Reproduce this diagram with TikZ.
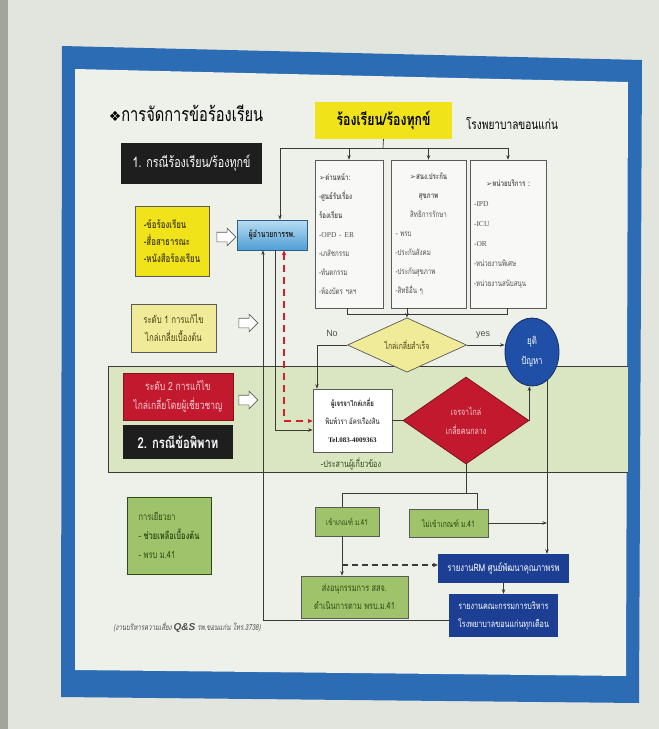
\documentclass[tikz,border=0pt]{standalone}
\usepackage{fontspec}
\setmainfont{Liberation Serif}
\newfontfamily\thf[Script=Thai,FakeStretch=0.75]{Loma}
\newfontfamily\thfi[Script=Thai,FakeStretch=0.75,FakeSlant=0.2]{Loma}
\newfontfamily\djv{DejaVu Sans}
\newfontfamily\lsans{Liberation Sans}
\usetikzlibrary{shapes.geometric,shapes.arrows,arrows.meta}
\newcommand\setfs[2]{\fontsize{#1}{#2}\selectfont}
\definecolor{wall}{HTML}{E2E4DE}
\definecolor{strip}{HTML}{A3A59A}
\definecolor{paper}{HTML}{EEF0EA}
\definecolor{frameblue}{HTML}{2B6CB5}
\definecolor{ybright}{HTML}{F0E31A}
\definecolor{ylight}{HTML}{EFEB98}
\definecolor{blk}{HTML}{1E1E1E}
\definecolor{bandg}{HTML}{DAE5C2}
\definecolor{boxg}{HTML}{9FC36B}
\definecolor{redb}{HTML}{C3192E}
\definecolor{darkb}{HTML}{1C3F94}
\definecolor{circb}{HTML}{1F4FA6}
\definecolor{lncol}{HTML}{3A3A3A}
\definecolor{bdcol}{HTML}{5A5A5A}
\definecolor{olivetxt}{HTML}{4A4010}
\definecolor{greentxt}{HTML}{2F4A14}
\definecolor{graytxt}{HTML}{505050}
\definecolor{pinktxt}{HTML}{F6D0D4}
\definecolor{dirtop}{HTML}{B9DCF2}
\definecolor{dirbot}{HTML}{4E9FD6}
\definecolor{dashred}{HTML}{D02030}
\begin{document}
\begin{tikzpicture}[x=1pt,y=-1pt,
  line/.style={draw=lncol,line width=0.7pt},
  arr/.style={line,-{Stealth[length=4.5pt,width=3.5pt]}},
  rect/.style={draw=bdcol,line width=0.7pt,inner sep=0pt,align=center},
  hollow/.style={single arrow,draw=gray!70!black,fill=white,line width=0.6pt,
     minimum height=19pt,inner sep=4.5pt,single arrow head extend=4pt},
  ]
\useasboundingbox (0,0) rectangle (659,729);
% background
\fill[wall] (0,0) rectangle (659,729);
\fill[strip] (0,0) rectangle (8,729);
\fill[frameblue] (62,46) -- (642,60) -- (639,703) -- (61,697) -- cycle;
\fill[paper] (75,69) -- (628,82) -- (626,676) -- (75,670) -- cycle;
% green band
\fill[bandg] (108,366) rectangle (628,472);
\draw[line] (108,472) -- (108,366) -- (628,366);
\draw[line] (108,472) -- (628,472);

% title texts
\node[font=\thf\setfs{19.5}{22}] (title) at (186,113) {{\djv\setfs{14}{16}❖}การจัดการข้อร้องเรียน};
\node[fill=ybright,inner sep=0pt,minimum width=137pt,minimum height=37pt,font=\thf\bfseries\setfs{16.4}{18}] (topbox) at (383.5,120.5) {ร้องเรียน/ร้องทุกข์};
\node[font=\thf\setfs{13.5}{15}] (hosp) at (512,123) {โรงพยาบาลขอนแก่น};
\node[fill=blk,inner sep=0pt,minimum width=141pt,minimum height=41pt,text=white,font=\thf\setfs{14.3}{16}] (case1) at (191.5,163.5) {1. กรณีร้องเรียน/ร้องทุกข์};

% left column
\node[rect,fill=ybright,minimum width=74pt,minimum height=70pt,align=left,text=olivetxt,font=\thf\bfseries\setfs{10.5}{17}] (src) at (172,241) {-ข้อร้องเรียน\\-สื่อสาธารณะ\\-หนังสือร้องเรียน};
\node[hollow] (ha1) at (224,237) {};
\node[rect,top color=dirtop,bottom color=dirbot,draw=dirbot!60!black,minimum width=70pt,minimum height=30pt,text=blk,font=\thf\bfseries\setfs{9.1}{10}] (director) at (272,235) {ผู้อำนวยการรพ.};

\node[rect,fill=ylight,minimum width=85pt,minimum height=48pt,text=olivetxt,font=\thf\setfs{10.4}{18}] (lvl1) at (173.5,328) {ระดับ 1 การแก้ไข\\ไกล่เกลี่ยเบื้องต้น};
\node[hollow] (ha2) at (246,323) {};
\node[rect,fill=redb,draw=redb!70!black,minimum width=110pt,minimum height=47pt,text=pinktxt,font=\thf\setfs{11.3}{19}] (lvl2) at (178,396.5) {ระดับ 2 การแก้ไข\\ไกล่เกลี่ยโดยผู้เชี่ยวชาญ};
\node[hollow] (ha3) at (246,400) {};
\node[fill=blk,inner sep=0pt,minimum width=110pt,minimum height=34pt,text=white,font=\thf\bfseries\setfs{15}{17}] (case2) at (178,442) {2. กรณีข้อพิพาท};
\node[rect,fill=boxg,draw=greentxt,minimum width=84pt,minimum height=77pt,align=left,text=greentxt,font=\thf\setfs{10}{19}] (remedy) at (169,535.5) {การเยียวยา\\- \textbf{ช่วยเหลือเบื้องต้น}\\- พรบ ม.41};
\node[font=\thfi\setfs{8.2}{9},text=graytxt] (footer) at (187,627) {(งานบริหารความเสี่ยง {\lsans\bfseries\itshape\setfs{10}{11}Q\&S} รพ.ขอนแก่น โทร.3738)};

% three boxes
\node[rect,fill=white!60!paper,minimum width=68pt,minimum height=148pt,text width=60pt,align=left,text=graytxt,font=\thf\setfs{8.2}{19}] (box1) at (349,234)
 {{\djv\setfs{7.5}{19}➢}\textbf{ด่านหน้า:}\\-\textbf{ศูนย์รับเรื่อง}\\\textbf{ร้องเรียน}\\{\rmfamily\setfs{7.5}{19}-OPD - ER}\\-เภสัชกรรม\\-ทันตกรรม\\-ห้องบัตร ฯลฯ};
\node[rect,fill=white!60!paper,minimum width=75pt,minimum height=148pt,text width=66pt,align=left,text=graytxt,font=\thf\setfs{8.2}{19}] (box2) at (428.5,234)
 {\makebox[66pt]{{\djv\setfs{7.5}{19}➢}\textbf{สนง.ประกัน}}\\\makebox[66pt]{\textbf{สุขภาพ}}\\\makebox[66pt]{สิทธิการรักษา}\\- พรบ\\-ประกันสังคม\\-ประกันสุขภาพ\\-สิทธิอื่น ๆ};
\node[rect,fill=white!60!paper,minimum width=76pt,minimum height=148pt,text width=68pt,align=left,text=graytxt,font=\thf\setfs{8.2}{20}] (box3) at (508,234)
 {\makebox[68pt]{{\djv\setfs{7.5}{20}➢}\textbf{หน่วยบริการ :}}\\{\rmfamily\setfs{7.5}{20}-IPD}\\{\rmfamily\setfs{7.5}{20}-ICU}\\{\rmfamily\setfs{7.5}{20}-OR}\\-หน่วยงานพิเศษ\\-หน่วยงานสนับสนุน};

% decision and end
\node[diamond,draw=bdcol,line width=0.7pt,fill=ylight,minimum width=119pt,minimum height=44pt,inner sep=0pt,text=olivetxt,font=\thf\setfs{9.2}{10}] (ydia) at (407,345) {ไกล่เกลี่ยสำเร็จ};
\node[font=\lsans\setfs{9}{10},text=graytxt] (nolab) at (332,333) {No};
\node[font=\lsans\setfs{9}{10},text=graytxt] (yeslab) at (483,335) {yes};
\node[ellipse,fill=circb,draw=circb!60!black,line width=0.8pt,minimum width=54pt,minimum height=68pt,inner sep=0pt,align=center,text=white,font=\thf\setfs{10.4}{20}] (endc) at (532,352) {ยุติ\\ปัญหา};

\node[rect,fill=white,minimum width=79pt,minimum height=63pt,text=blk,font=\thf\setfs{8}{18}] (mediator) at (352.5,420.5) {\textbf{ผู้เจรจาไกล่เกลี่ย}\\พิมพ์วรา อัครเรืองสิน\\{\rmfamily\bfseries\setfs{7}{18}Tel.083-4009363}};
\node[font=\thf\setfs{9.6}{10},text=greentxt] (coord) at (351,464) {-ประสานผู้เกี่ยวข้อง};
\node[diamond,draw=redb!60!black,line width=0.7pt,fill=redb,minimum width=126pt,minimum height=87pt,inner sep=0pt,align=center,text=pinktxt,font=\thf\setfs{9.4}{19}] (rdia) at (466,420.5) {เจรจาไกล่\\เกลี่ยคนกลาง};

% lower part
\node[rect,fill=boxg,minimum width=64pt,minimum height=29pt,text=greentxt,font=\thf\setfs{8.3}{9}] (inbox) at (347,521.5) {เข้าเกณฑ์ ม.41};
\node[rect,fill=boxg,minimum width=79pt,minimum height=28pt,text=greentxt,font=\thf\setfs{9}{10}] (outbox) at (448.5,523) {ไม่เข้าเกณฑ์ ม.41};
\node[rect,fill=boxg,minimum width=107pt,minimum height=42pt,text=greentxt,font=\thf\setfs{9.8}{18}] (subcom) at (354.5,597) {ส่งอนุกรรมการ สสจ.\\ดำเนินการตาม พรบ.ม.41};
\node[fill=darkb,inner sep=0pt,minimum width=131pt,minimum height=29pt,text=white,font=\thf\setfs{10.2}{11}] (rmbox) at (503.5,568.5) {รายงานRM ศูนย์พัฒนาคุณภาพรพ};
\node[fill=darkb,inner sep=0pt,minimum width=109pt,minimum height=43pt,align=center,text=white,font=\thf\setfs{9.6}{18}] (board) at (503.5,615.5) {รายงานคณะกรรมการบริหาร\\โรงพยาบาลขอนแก่นทุกเดือน};

% connectors: top
\coordinate (tj) at (383,148);
\coordinate (tl) at (280,148);
\coordinate (tr) at (508,148);
\draw[line] (topbox.south) -- (tj);
\draw[line] (tl) -- (tr);
\draw[arr] (tl) -- (tl |- director.north);
\draw[arr] (box1.north |- tl) -- (box1.north);
\draw[arr] (box2.north |- tl) -- (box2.north);
\draw[arr] (box3.north |- tl) -- (box3.north);
% boxes to decision
\coordinate (bl) at (347,314);
\coordinate (br) at (507,314);
\draw[line] (box1.south -| bl) -- (bl) -- (br) -- (box3.south -| br);
\draw[arr] (box2.south -| ydia.north) -- (ydia.north);
\coordinate (nc) at (317,345);
\draw[arr] (ydia.west) -- (nc) -- (nc |- mediator.north);
\draw[arr] (ydia.east) -- (ydia.east -| endc.west);
\draw[line] (mediator.east) -- (rdia.west);
\draw[arr] (rdia.east) -- (rdia.east |- endc.south);
\coordinate (rv) at (547,380);
\draw[arr] (rv) -- (rv |- rmbox.north);
\draw[arr] (outbox.east) -- (outbox.east -| rv);
% lower
\coordinate (mj) at (466,493);
\coordinate (ml) at (342,493);
\coordinate (mr) at (477,493);
\draw[line] (rdia.south) -- (mj);
\draw[line] (ml |- inbox.north) -- (ml) -- (mr) -- (mr |- outbox.north);
\draw[arr] (inbox.south -| ml) -- (subcom.north -| ml);
\coordinate (dj) at (342,565);
\draw[line,line width=1.6pt,dash pattern=on 6pt off 4pt,-{Stealth[length=5pt,width=4.5pt]}] (dj) -- (dj -| rmbox.west);
\draw[arr] (rmbox.south) -- (board.north);
% left return lines
\coordinate (lb) at (263,620);
\draw[arr] (board.west |- lb) -- (lb) -- (lb |- director.south);
\coordinate (l2) at (275,430);
\draw[arr] (director.south -| l2) -- (l2) -- (l2 -| mediator.west);
\coordinate (l3) at (284,421);
\draw[draw=dashred,line width=1.6pt,dash pattern=on 7pt off 5pt,{Stealth[length=5pt,width=4.5pt]}-{Stealth[length=5pt,width=4.5pt]}] (director.south -| l3) -- (l3) -- (l3 -| mediator.west);
\end{tikzpicture}
\end{document}
